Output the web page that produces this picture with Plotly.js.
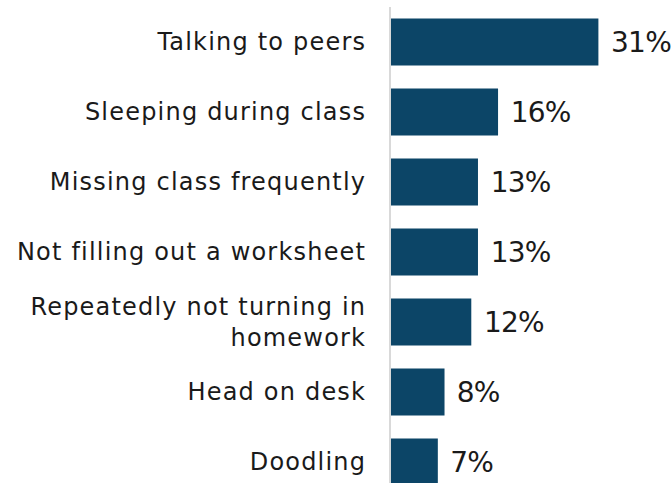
<!DOCTYPE html>
<html>
<head>
<meta charset="utf-8">
<script src="https://cdn.plot.ly/plotly-3.0.1.min.js"></script>
<style>
html,body{margin:0;padding:0;background:#fff;}
#chart{width:672px;height:483px;}
#chart .ytick text{letter-spacing:1.2px;}
#chart text.bartext{letter-spacing:-0.8px;}
</style>
</head>
<body>
<div id="chart"></div>
<script>
const categories = [
  "Talking to peers",
  "Sleeping during class",
  "Missing class frequently",
  "Not filling out a worksheet",
  "Repeatedly not turning in<br>homework",
  "Head on desk",
  "Doodling"
];
const values = [31, 16, 13, 13, 12, 8, 7];

const trace = {
  type: "bar",
  orientation: "h",
  x: values,
  y: categories,
  marker: {color: "#0c4567"},
  text: values.map(v => "\u00a0" + v + "%"),
  textposition: "outside",
  textfont: {family: "DejaVu Sans, sans-serif", size: 28, color: "#1a1a1a"},
  cliponaxis: false,
  hoverinfo: "none"
};

const layout = {
  width: 672,
  height: 483,
  margin: {l: 391, r: 0, t: 7, b: 0, pad: 0},
  paper_bgcolor: "#ffffff",
  plot_bgcolor: "#ffffff",
  showlegend: false,
  bargap: 0.33,
  font: {family: "DejaVu Sans, sans-serif", color: "#1a1a1a"},
  xaxis: {
    range: [0, 42],
    visible: false,
    showgrid: false,
    zeroline: false
  },
  yaxis: {
    type: "category",
    categoryorder: "array",
    categoryarray: categories,
    range: [6.3, -0.5],
    showline: true,
    linecolor: "#d9d9d9",
    linewidth: 2,
    showgrid: false,
    zeroline: false,
    ticks: "",
    ticklabelstandoff: 18,
    tickfont: {family: "DejaVu Sans, sans-serif", size: 24, color: "#1a1a1a"}
  }
};

Plotly.newPlot("chart", [trace], layout, {displayModeBar: false, staticPlot: true});
</script>
</body>
</html>
